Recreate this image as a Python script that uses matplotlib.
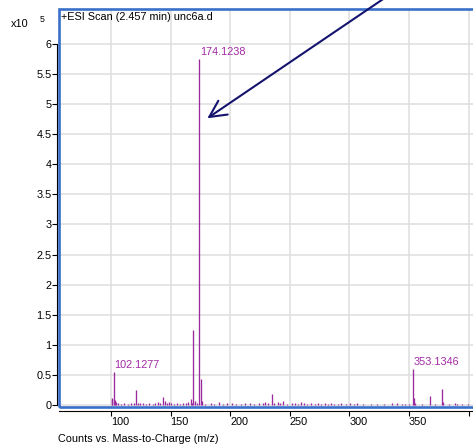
import matplotlib
matplotlib.use("Agg")
import matplotlib.pyplot as plt
from matplotlib.patches import Rectangle, FancyArrowPatch

plt.rcParams["font.family"] = ["Liberation Sans", "DejaVu Sans"]

# canvas in pixels
W, H = 473, 445
DPI = 100

# spectrum: m/z and abundance (x10^5 counts)
mz = [100.8, 101.2, 102.1277, 103.1, 104.0, 106.0, 108.5, 111.3, 114.2, 116.8,
      119.1, 121.1, 122.6, 124.0, 126.5, 129.7, 132.1, 135.0, 137.2, 139.5,
      141.5, 143.9, 145.0, 146.6, 148.5, 150.5, 152.9, 155.2, 158.0, 160.3,
      162.6, 164.8, 166.8, 168.0, 169.0, 170.1, 172.2, 174.1238, 175.13, 176.1,
      179.0, 183.5, 186.6, 190.8, 194.0, 197.3, 201.2, 205.0, 209.1, 212.4,
      216.6, 220.3, 224.0, 227.5, 229.2, 232.0, 234.8, 237.1, 240.3, 242.0,
      244.5, 248.0, 251.6, 254.3, 257.0, 259.1, 261.5, 264.6, 268.0, 271.2,
      274.0, 276.5, 279.3, 282.0, 284.5, 287.0, 290.1, 293.0, 297.5, 300.4,
      303.8, 306.4, 311.4, 318.0, 323.5, 329.0, 335.7, 340.0, 343.8, 347.0,
      350.0, 353.1346, 354.1, 355.1, 360.5, 367.5, 372.0, 377.6, 378.6, 383.7,
      388.5, 390.0, 394.5, 399.7]
abundance = [0.10, 0.12, 0.553, 0.08, 0.05, 0.03, 0.02, 0.03, 0.02, 0.04,
             0.03, 0.25, 0.04, 0.03, 0.03, 0.02, 0.04, 0.02, 0.03, 0.05,
             0.04, 0.14, 0.06, 0.04, 0.05, 0.03, 0.02, 0.03, 0.02, 0.04,
             0.03, 0.05, 0.095, 0.04, 1.246, 0.06, 0.03, 5.745, 0.43, 0.06,
             0.02, 0.03, 0.02, 0.055, 0.02, 0.03, 0.04, 0.02, 0.02, 0.03,
             0.03, 0.02, 0.03, 0.04, 0.05, 0.04, 0.18, 0.03, 0.05, 0.03,
             0.07, 0.02, 0.03, 0.03, 0.02, 0.05, 0.03, 0.02, 0.03, 0.02,
             0.03, 0.02, 0.03, 0.02, 0.03, 0.02, 0.02, 0.03, 0.02, 0.03,
             0.02, 0.03, 0.02, 0.02, 0.01, 0.01, 0.04, 0.03, 0.02, 0.02,
             0.02, 0.598, 0.11, 0.04, 0.01, 0.155, 0.01, 0.265, 0.05, 0.025,
             0.035, 0.02, 0.01, 0.02]

labeled_mz = [102.1277, 174.1238, 353.1346]

xticks = [100, 150, 200, 250, 300, 350, 400]
xtick_labels = ["100", "150", "200", "250", "300", "350", ""]
yticks = [0, 0.5, 1, 1.5, 2, 2.5, 3, 3.5, 4, 4.5, 5, 5.5, 6]
ytick_labels = ["0", "0.5", "1", "1.5", "2", "2.5", "3", "3.5", "4", "4.5", "5", "5.5", "6"]

PEAK = "#9b2a9f"
LABEL = "#a22aa5"
FRAME = "#3a70c9"
GRID = "#dedede"
ARROW = "#14146e"
FS = 7.8


def fx(x):
    return x / W


def fy(y):
    return 1 - y / H


fig = plt.figure(figsize=(W / DPI, H / DPI), dpi=DPI, facecolor="white")
ax = fig.add_axes([fx(59), fy(407.3), 421 / W, (407.3 - 9) / H])
ax.set_xlim(56.4, 409.5)
ax.set_ylim(-0.038, 6.581)

ax.vlines(mz, 0, abundance, color=PEAK, lw=0.95, zorder=3)
for m in labeled_mz:
    a = abundance[mz.index(m)]
    ax.annotate(f"{m:.4f}", xy=(m, a), xytext=(0.4, 2.9),
                textcoords="offset points", ha="left", va="baseline",
                fontsize=FS, color=LABEL, zorder=4)

ax.grid(True, color=GRID, lw=1.1, zorder=0)
ax.set_axisbelow(True)
ax.tick_params(axis="both", direction="out", length=3.6, width=0.8,
               labelsize=FS, color="black")
ax.tick_params(axis="x", pad=0.6)
ax.tick_params(axis="y", pad=0.2)

for side in ("top", "right"):
    ax.spines[side].set_visible(False)
ax.spines["left"].set_position(("outward", 1.65))
ax.spines["left"].set_bounds(0, 6)
ax.spines["bottom"].set_position(("outward", 2.66))
for side in ("left", "bottom"):
    ax.spines[side].set_linewidth(0.8)
    ax.spines[side].set_color("black")

ax.set_yticks(yticks, ytick_labels)
# m/z labels sit to the right of their tick
ax.set_xticks(xticks, xtick_labels, horizontalalignment="left")

# blue plot frame, open to the right
ax.add_patch(Rectangle((0, 0), 1.2, 1, transform=ax.transAxes, fill=False,
                       edgecolor=FRAME, lw=1.9, clip_on=False, zorder=5))

fig.text(fx(61), fy(20), "+ESI Scan (2.457 min) unc6a.d", fontsize=FS,
         ha="left", va="baseline")
fig.text(fx(11), fy(26.7), "x10", fontsize=FS, ha="left", va="baseline")
fig.text(fx(40), fy(22), "5", fontsize=6.3, ha="left", va="baseline")
fig.text(fx(58), fy(442), "Counts vs. Mass-to-Charge (m/z)", fontsize=FS,
         ha="left", va="baseline")

arrow = FancyArrowPatch((fx(395), fy(-9)), (fx(207.3), fy(118.3)),
                        transform=fig.transFigure,
                        arrowstyle="->,head_length=12,head_width=6",
                        mutation_scale=1, lw=1.5, color=ARROW,
                        shrinkA=0, shrinkB=0, zorder=10)
fig.add_artist(arrow)

fig.savefig("out.png", dpi=DPI, facecolor="white")
